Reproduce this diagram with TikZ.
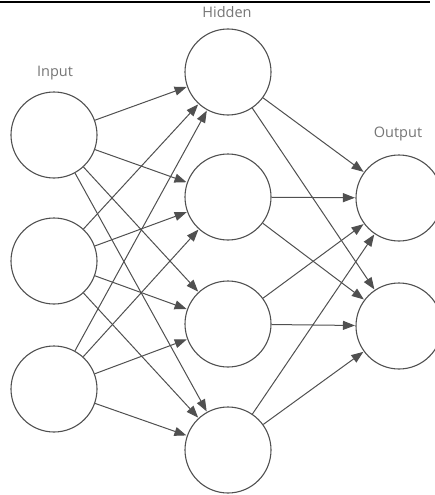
\documentclass[tikz,border=0pt]{standalone}
\usepackage{fontspec}
\setmainfont{Open Sans}
\usetikzlibrary{arrows.meta}
\definecolor{ink}{HTML}{505050}
\definecolor{lbl}{HTML}{757575}
\tikzset{
  neuron/.style={circle, draw=ink, line width=1.1pt, minimum size=86pt, inner sep=0pt},
  conn/.style={draw=ink, line width=1pt, -{Triangle[length=12pt,width=9pt]}, shorten >=0.5pt},
  lab/.style={text=lbl, font=\fontsize{14.5}{16}\selectfont, inner sep=0pt, anchor=base}
}
\begin{document}
\begin{tikzpicture}[x=1pt,y=-1pt]
\useasboundingbox (0,0) rectangle (435,495);
\clip (0,0) rectangle (435,495);
\draw[black, line width=1.5pt] (0,2) -- (430,2);
\node[neuron] (i1) at (54,135) {};
\node[neuron] (i2) at (54,261) {};
\node[neuron] (i3) at (54,389) {};
\node[neuron] (h1) at (228,72) {};
\node[neuron] (h2) at (228,197) {};
\node[neuron] (h3) at (228,324) {};
\node[neuron] (h4) at (228,450) {};
\node[neuron] (o1) at (399,198) {};
\node[neuron] (o2) at (399,326) {};
\node[lab] (li) at (55,77) {Input};
\node[lab] (lh) at (227,18) {Hidden};
\node[lab] (lo) at (398,137) {Output};
\foreach \i in {i1,i2,i3}
  \foreach \h in {h1,h2,h3,h4}
    \path[conn] (\i) -- (\h);
\foreach \h in {h1,h2,h3,h4}
  \foreach \o in {o1,o2}
    \path[conn] (\h) -- (\o);
\end{tikzpicture}
\end{document}
